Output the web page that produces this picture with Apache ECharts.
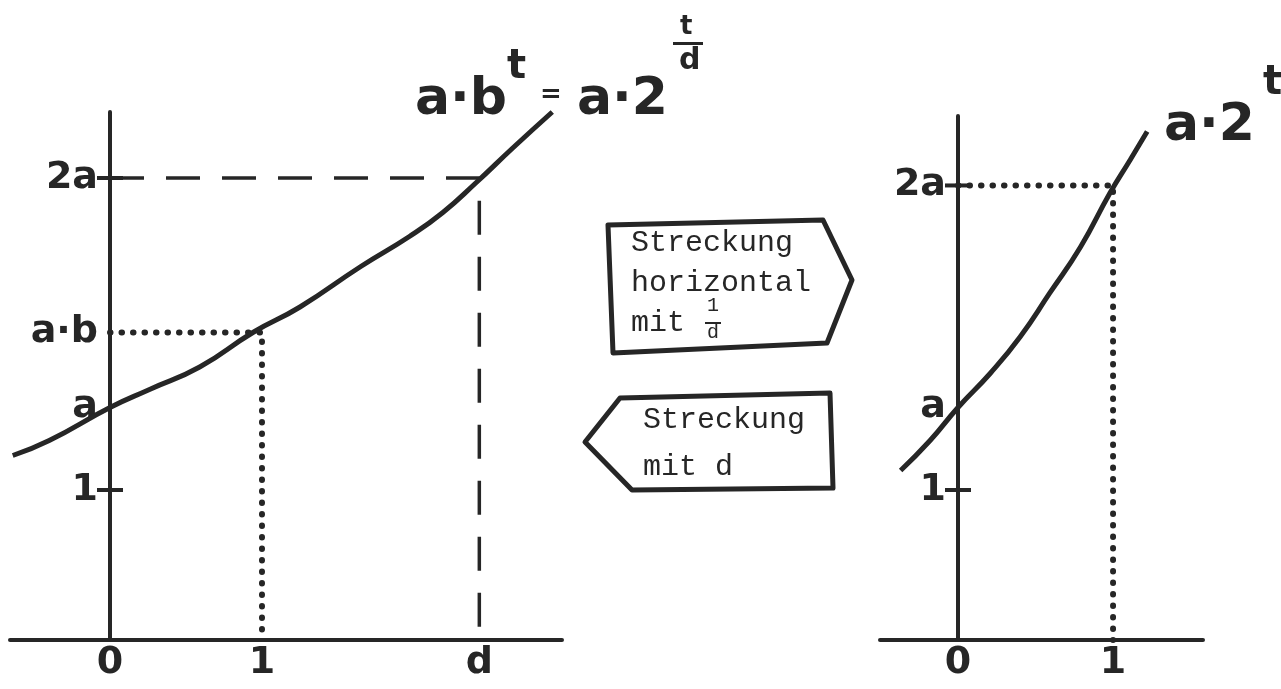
<!DOCTYPE html>
<html><head><meta charset="utf-8">
<script src="https://cdn.jsdelivr.net/npm/echarts@6/dist/echarts.min.js"></script>
<style>html,body{margin:0;padding:0;background:#fff}#c{width:1281px;height:689px}</style>
</head><body><div id="c"></div>
<script>
// ---- values ----
const A = 1.55;            // level "a"
const AB = 2.05;           // level "a·b"
const TWO_A_L = 3.08;      // level "2a" (left sketch)
const TWO_A_R = 3.03;      // level "2a" (right sketch)
const D = 2.43;            // position "d"
const leftCurveT = [-0.64, -0.40, 0, 0.26, 0.59, 0.94, 1.25, 1.65, 1.97, 2.19, 2.41, 2.65, 2.91];
const leftCurveV = [1.23, 1.33, 1.55, 1.67, 1.82, 2.05, 2.22, 2.49, 2.69, 2.85, 3.05, 3.28, 3.52];
const rightCurveT = [-0.37, -0.18, 0, 0.21, 0.40, 0.59, 0.79, 0.98, 1.11, 1.22];
const rightCurveV = [1.13, 1.33, 1.55, 1.78, 2.02, 2.31, 2.62, 2.98, 3.20, 3.39];
const leftYTicks = [1, A, AB, TWO_A_L];
const leftYLabels = ['1', 'a', 'a·b', '2a'];
const leftXTicks = [0, 1, D];
const leftXLabels = ['0', '1', 'd'];
const rightYTicks = [1, A, TWO_A_R];
const rightYLabels = ['1', 'a', '2a'];
const rightXTicks = [0, 1];
const rightXLabels = ['0', '1'];

const INK = '#262626';
const HAND = '"DejaVu Sans", sans-serif';
const MONO = '"Liberation Mono", "DejaVu Sans Mono", monospace';

function pairs(t, v) { return t.map((x, i) => [x, v[i]]); }
function lab(ticks, labels) { return v => { const i = ticks.indexOf(v); return i >= 0 ? labels[i] : ''; }; }

const axisLineStyle = { color: INK, width: 4 };
function xAx(gi, min, max, ticks, labels) {
  return { gridIndex: gi, type: 'value', min, max,
    axisLine: { show: true, onZero: true, lineStyle: axisLineStyle },
    axisTick: { show: false }, splitLine: { show: false },
    axisLabel: { customValues: ticks, formatter: lab(ticks, labels), color: INK,
      fontFamily: HAND, fontSize: 38, fontWeight: 'bold', margin: 4 } };
}
function yAx(gi, max) {
  return { gridIndex: gi, type: 'value', min: 0, max,
    axisLine: { show: true, onZero: true, lineStyle: axisLineStyle },
    axisTick: { show: false }, splitLine: { show: false }, axisLabel: { show: false } };
}
function yLabelSeries(gi, ticks, labels) {
  return { type: 'scatter', xAxisIndex: gi, yAxisIndex: gi, data: ticks.map(v => [0, v]),
    symbolSize: 0, silent: true, itemStyle: { opacity: 1, color: INK },
    label: { show: true, position: 'left', distance: 12, color: INK, opacity: 1, fontFamily: HAND,
      fontSize: 38, fontWeight: 'bold', formatter: p => labels[p.dataIndex] } };
}
const curveStyle = { color: INK, width: 5 };
const dashStyle = { color: INK, width: 3.5, type: [34, 22] };
const dotStyle = { color: INK, width: 6, type: [0.5, 11], cap: 'round' };

const option = {
  backgroundColor: '#fff',
  animation: false,
  grid: [
    { left: 10, top: 112, width: 552, height: 528, containLabel: false, outerBoundsMode: 'none' },
    { left: 880, top: 116, width: 323, height: 524, containLabel: false, outerBoundsMode: 'none' }
  ],
  xAxis: [ xAx(0, -0.658, 2.974, leftXTicks, leftXLabels), xAx(1, -0.503, 1.58, rightXTicks, rightXLabels) ],
  yAxis: [ yAx(0, 3.52), yAx(1, 3.493) ],
  series: [
    { type: 'line', xAxisIndex: 0, yAxisIndex: 0, data: pairs(leftCurveT, leftCurveV), smooth: 0.5, showSymbol: false, lineStyle: curveStyle, z: 5 },
    { type: 'line', xAxisIndex: 0, yAxisIndex: 0, data: [[0, TWO_A_L], [D, TWO_A_L], [D, 0]], showSymbol: false, lineStyle: dashStyle },
    { type: 'line', xAxisIndex: 0, yAxisIndex: 0, data: [[0, AB], [1, AB], [1, 0]], showSymbol: false, lineStyle: dotStyle },
    { type: 'scatter', xAxisIndex: 0, yAxisIndex: 0, data: [[0, 1], [0, TWO_A_L]], symbol: 'rect', symbolSize: [26, 4], itemStyle: { color: INK, opacity: 1 } },
    yLabelSeries(0, leftYTicks, leftYLabels),
    { type: 'line', xAxisIndex: 1, yAxisIndex: 1, data: pairs(rightCurveT, rightCurveV), smooth: 0.5, showSymbol: false, lineStyle: curveStyle, z: 5 },
    { type: 'line', xAxisIndex: 1, yAxisIndex: 1, data: [[0, TWO_A_R], [1, TWO_A_R], [1, 0]], showSymbol: false, lineStyle: dotStyle },
    { type: 'scatter', xAxisIndex: 1, yAxisIndex: 1, data: [[0, 1], [0, TWO_A_R]], symbol: 'rect', symbolSize: [26, 4], itemStyle: { color: INK, opacity: 1 } },
    yLabelSeries(1, rightYTicks, rightYLabels)
  ],
  graphic: [
    // formula left
    { type: 'text', left: 415, top: 74, style: { text: 'a·b', font: 'bold 52px ' + HAND, fill: INK } },
    { type: 'text', left: 507, top: 48, style: { text: 't', font: 'bold 40px ' + HAND, fill: INK } },
    { type: 'text', left: 540, top: 82, style: { text: '=', font: 'bold 26px ' + HAND, fill: INK } },
    { type: 'text', left: 577, top: 74, style: { text: 'a·2', font: 'bold 52px ' + HAND, fill: INK } },
    { type: 'text', left: 680, top: 14, style: { text: 't', font: 'bold 26px ' + HAND, fill: INK } },
    { type: 'rect', left: 673, top: 42, shape: { width: 30, height: 3 }, style: { fill: INK } },
    { type: 'text', left: 679, top: 46, style: { text: 'd', font: 'bold 30px ' + HAND, fill: INK } },
    // formula right
    { type: 'text', left: 1164, top: 100, style: { text: 'a·2', font: 'bold 52px ' + HAND, fill: INK } },
    { type: 'text', left: 1263, top: 64, style: { text: 't', font: 'bold 40px ' + HAND, fill: INK } },
    // box 1 (pointing right)
    { type: 'polygon', shape: { points: [[608, 225], [823, 220], [852, 280], [827, 343], [613, 353]] },
      style: { fill: 'none', stroke: INK, lineWidth: 5, lineJoin: 'round' } },
    { type: 'text', left: 631, top: 228, style: { text: 'Streckung', font: '30px ' + MONO, fill: INK } },
    { type: 'text', left: 631, top: 268, style: { text: 'horizontal', font: '30px ' + MONO, fill: INK } },
    { type: 'text', left: 631, top: 308, style: { text: 'mit', font: '30px ' + MONO, fill: INK } },
    { type: 'text', left: 707, top: 296, style: { text: '1', font: '20px ' + MONO, fill: INK } },
    { type: 'rect', left: 705, top: 322, shape: { width: 16, height: 2 }, style: { fill: INK } },
    { type: 'text', left: 707, top: 323, style: { text: 'd', font: '20px ' + MONO, fill: INK } },
    // box 2 (pointing left)
    { type: 'polygon', shape: { points: [[620, 398], [830, 393], [833, 488], [632, 490], [585, 442]] },
      style: { fill: 'none', stroke: INK, lineWidth: 5, lineJoin: 'round' } },
    { type: 'text', left: 643, top: 405, style: { text: 'Streckung', font: '30px ' + MONO, fill: INK } },
    { type: 'text', left: 643, top: 452, style: { text: 'mit d', font: '30px ' + MONO, fill: INK } }
  ]
};
const chart = echarts.init(document.getElementById('c'), null, { renderer: 'canvas' });
chart.setOption(option);
</script>
</body></html>
